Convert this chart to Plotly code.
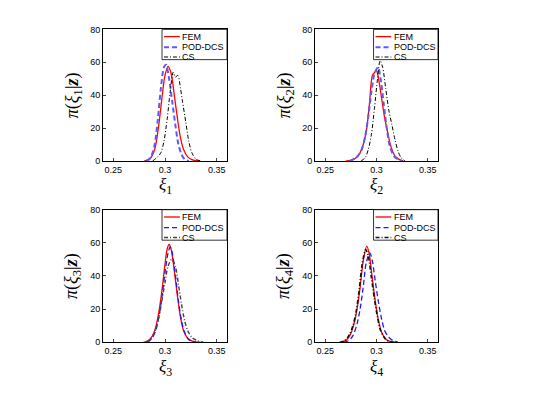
import plotly.graph_objects as go

# ---------------- data ----------------
xi1_fem_x = [0.280, 0.285, 0.290, 0.294, 0.297, 0.300, 0.303, 0.306, 0.309, 0.312, 0.315, 0.318, 0.322, 0.326, 0.330, 0.334]
xi1_fem_y = [0, 1, 7, 22, 38, 52, 57.5, 53, 40, 26, 14, 7, 2.5, 0.8, 0.2, 0]
xi1_pod_x = [0.282, 0.286, 0.290, 0.293, 0.296, 0.299, 0.301, 0.304, 0.307, 0.310, 0.313, 0.316, 0.319, 0.323]
xi1_pod_y = [0, 2, 10, 25, 44, 57, 58.5, 50, 36, 22, 10, 4, 1, 0]
xi1_cs_x = [0.288, 0.292, 0.296, 0.299, 0.302, 0.305, 0.308, 0.310, 0.3125, 0.315, 0.317, 0.320, 0.323, 0.326, 0.330, 0.335]
xi1_cs_y = [0, 2, 5, 12, 25, 42, 54, 51, 52, 44, 36, 24, 12, 5, 1, 0]

xi2_fem_x = [0.270, 0.276, 0.282, 0.286, 0.290, 0.293, 0.296, 0.2985, 0.300, 0.302, 0.305, 0.308, 0.311, 0.314, 0.318, 0.322, 0.326]
xi2_fem_y = [0, 0.5, 3, 8, 18, 34, 52, 54, 55, 50, 38, 26, 17, 9, 3, 1, 0]
xi2_pod_x = [0.274, 0.280, 0.285, 0.289, 0.292, 0.295, 0.298, 0.3015, 0.304, 0.307, 0.310, 0.313, 0.317, 0.321, 0.325]
xi2_pod_y = [0, 2, 6, 15, 27, 42, 53, 57, 50, 35, 20, 9, 3, 1, 0]
xi2_cs_x = [0.285, 0.289, 0.292, 0.295, 0.298, 0.301, 0.3035, 0.306, 0.309, 0.312, 0.315, 0.318, 0.321, 0.324, 0.328]
xi2_cs_y = [0, 2, 7, 16, 32, 50, 61, 57, 44, 31, 22, 13, 6, 2, 0]

xi3_fem_x = [0.279, 0.284, 0.288, 0.291, 0.294, 0.297, 0.300, 0.302, 0.304, 0.306, 0.309, 0.312, 0.315, 0.318, 0.322, 0.327, 0.334]
xi3_fem_y = [0, 1, 4, 9, 18, 31, 47, 56, 59, 56, 43, 28, 15, 7, 2.5, 0.5, 0]
xi3_pod_x = [0.283, 0.287, 0.291, 0.294, 0.297, 0.300, 0.303, 0.305, 0.307, 0.310, 0.313, 0.316, 0.319, 0.323, 0.330]
xi3_pod_y = [0, 2, 7, 15, 27, 42, 54, 57.5, 54, 41, 25, 13, 6, 1.5, 0]
xi3_cs_x = [0.282, 0.286, 0.290, 0.294, 0.297, 0.300, 0.303, 0.3065, 0.310, 0.313, 0.316, 0.319, 0.322, 0.326, 0.331, 0.337]
xi3_cs_y = [0, 2, 6, 15, 25, 36, 46, 50, 46, 35, 23, 13, 7, 3, 1, 0]

xi4_fem_x = [0.265, 0.270, 0.274, 0.278, 0.281, 0.284, 0.287, 0.2905, 0.293, 0.296, 0.299, 0.302, 0.305, 0.309, 0.313, 0.318]
xi4_fem_y = [0, 1, 4, 11, 20, 33, 49, 58, 53, 38, 24, 13, 6, 2, 0.5, 0]
xi4_pod_x = [0.268, 0.273, 0.277, 0.281, 0.284, 0.287, 0.290, 0.2935, 0.296, 0.299, 0.302, 0.305, 0.308, 0.312, 0.316, 0.321]
xi4_pod_y = [0, 1, 4, 11, 20, 33, 48, 54, 49, 36, 24, 14, 7, 3, 1, 0]
xi4_cs_x = [0.264, 0.269, 0.273, 0.277, 0.280, 0.283, 0.286, 0.2895, 0.292, 0.295, 0.298, 0.301, 0.304, 0.308, 0.312, 0.317]
xi4_cs_y = [0, 1, 4, 10, 18, 31, 47, 56, 52, 39, 26, 15, 7, 2.5, 0.5, 0]

series_names = ["FEM", "POD-DCS", "CS"]
x_tick_vals = [0.25, 0.3, 0.35]
x_tick_text = ["0.25", "0.3", "0.35"]
y_tick_vals = [0, 20, 40, 60, 80]

panels = [
    dict(idx=1, sub="1", data=[(xi1_fem_x, xi1_fem_y), (xi1_pod_x, xi1_pod_y), (xi1_cs_x, xi1_cs_y)]),
    dict(idx=2, sub="2", data=[(xi2_fem_x, xi2_fem_y), (xi2_pod_x, xi2_pod_y), (xi2_cs_x, xi2_cs_y)]),
    dict(idx=3, sub="3", data=[(xi3_fem_x, xi3_fem_y), (xi3_pod_x, xi3_pod_y), (xi3_cs_x, xi3_cs_y)]),
    dict(idx=4, sub="4", data=[(xi4_fem_x, xi4_fem_y), (xi4_pod_x, xi4_pod_y), (xi4_cs_x, xi4_cs_y)]),
]

# per-panel line styles (top row: light thick blue dashes)
styles = {
    1: [dict(color="#ff0000", width=1.3, dash="solid"),
        dict(color="#5a5aff", width=2.0, dash="5px,3px"),
        dict(color="#000000", width=1.0, dash="4px,2px,1px,2px")],
    2: [dict(color="#ff0000", width=1.3, dash="solid"),
        dict(color="#5a5aff", width=2.0, dash="5px,3px"),
        dict(color="#000000", width=1.0, dash="4px,2px,1px,2px")],
    3: [dict(color="#ff0000", width=1.3, dash="solid"),
        dict(color="#1a1aff", width=1.3, dash="5px,3px"),
        dict(color="#444444", width=1.4, dash="4px,2px,1px,2px")],
    4: [dict(color="#ff0000", width=1.3, dash="solid"),
        dict(color="#1a1aff", width=1.3, dash="5px,3px"),
        dict(color="#111111", width=1.6, dash="4px,2px,1px,2px")],
}

W, H = 540, 396
# axes pixel boxes (left, right, top, bottom)
boxes = {1: (103, 227, 25, 160), 2: (315, 438, 25, 160),
         3: (103, 227, 210, 346), 4: (315, 438, 210, 346)}

fig = go.Figure()
layout = dict(width=W, height=H, margin=dict(l=0, r=0, t=0, b=0),
              paper_bgcolor="white", plot_bgcolor="white", showlegend=False,
              font=dict(family="Liberation Sans, Arial", size=9, color="#000000"))

shapes = []
annotations = []
serif = "Liberation Serif, DejaVu Serif, serif"

for p in panels:
    i = p["idx"]
    xa = "x" if i == 1 else f"x{i}"
    ya = "y" if i == 1 else f"y{i}"
    l, r, t, b = boxes[i]
    layout["xaxis" if i == 1 else f"xaxis{i}"] = dict(
        domain=[l / W, r / W], range=[0.24, 0.36], anchor=ya,
        tickvals=x_tick_vals, ticktext=x_tick_text, ticks="inside", ticklen=3,
        showline=True, linecolor="#000", linewidth=1, mirror=True,
        showgrid=False, zeroline=False, tickfont=dict(size=9))
    layout["yaxis" if i == 1 else f"yaxis{i}"] = dict(
        domain=[1 - b / H, 1 - t / H], range=[0, 80], anchor=xa,
        tickvals=y_tick_vals, ticks="inside", ticklen=3,
        showline=True, linecolor="#000", linewidth=1, mirror=True,
        showgrid=False, zeroline=False, tickfont=dict(size=9))
    for (xs, ys), name, st in zip(p["data"], series_names, styles[i]):
        fig.add_trace(go.Scatter(x=xs, y=ys, mode="lines", name=name,
                                 line=dict(color=st["color"], width=st["width"],
                                           dash=st["dash"], shape="spline", smoothing=0.8),
                                 xaxis=xa, yaxis=ya))
    # axis titles
    annotations.append(dict(text=f"<i>ξ</i><sub>{p['sub']}</sub>", xref="paper", yref="paper",
                            x=(l + r) / 2 / W, y=1 - (b + 26) / H, showarrow=False,
                            font=dict(family=serif, size=17), xanchor="center", yanchor="middle"))
    annotations.append(dict(text=f"<i>π</i>(<i>ξ</i><sub>{p['sub']}</sub>|<b><i>z</i></b>)",
                            xref="paper", yref="paper",
                            x=(l - 30) / W, y=1 - (t + b) / 2 / H, showarrow=False, textangle=-90,
                            font=dict(family=serif, size=18), xanchor="center", yanchor="middle"))
    # legend box (manual, top-right inside axes)
    xd = f"{xa} domain"
    yd = f"{ya} domain"
    shapes.append(dict(type="rect", xref=xd, yref=yd, x0=0.476, x1=1.0, y0=0.77, y1=1.0,
                       line=dict(color="#000", width=0.8), fillcolor="white", layer="above"))
    rows = [0.945, 0.865, 0.79]
    for yy, name, st in zip(rows, series_names, styles[i]):
        shapes.append(dict(type="line", xref=xd, yref=yd, x0=0.492, x1=0.62, y0=yy, y1=yy,
                           line=dict(color=st["color"], width=st["width"], dash=st["dash"]),
                           layer="above"))
        annotations.append(dict(text=name, xref=xd, yref=yd, x=0.622, y=yy, showarrow=False,
                                xanchor="left", yanchor="middle", font=dict(size=9)))

layout["shapes"] = shapes
layout["annotations"] = annotations
fig.update_layout(**layout)
fig.write_html("out.html", config={"displayModeBar": False},
               post_script="document.body.style.margin='0';")
